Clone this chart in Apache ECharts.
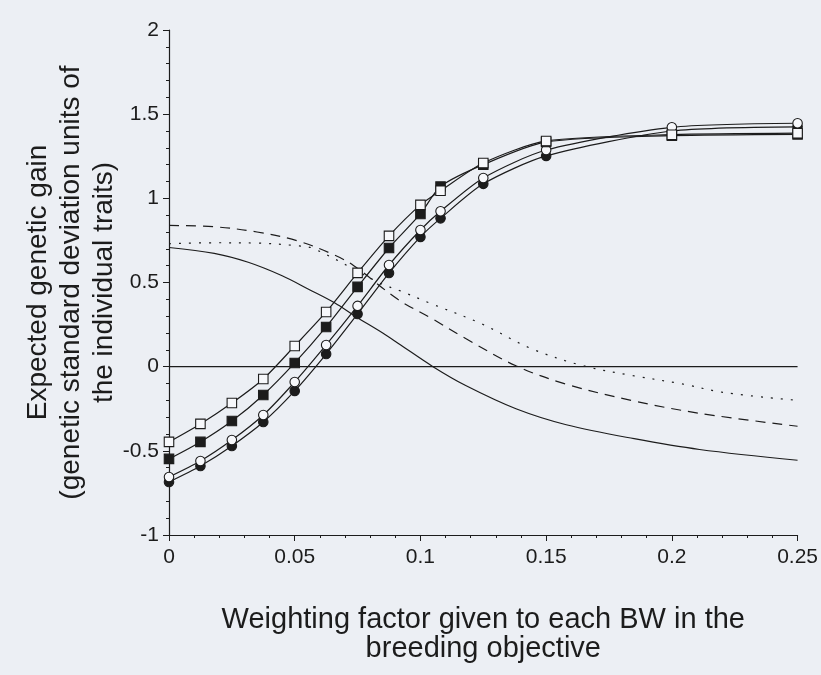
<!DOCTYPE html>
<html>
<head>
<meta charset="utf-8">
<script src="https://cdn.jsdelivr.net/npm/echarts@6/dist/echarts.min.js"></script>
<style>
  html, body { margin: 0; padding: 0; background: #eceff4; }
  #chart { width: 821px; height: 675px; }
</style>
</head>
<body>
<div id="chart"></div>
<script>
// ---- data ----
const markerX = [0, 0.0125, 0.025, 0.0375, 0.05, 0.0625, 0.075, 0.0875, 0.1, 0.108, 0.125, 0.15, 0.2, 0.25];
const openSquareY   = [-0.447, -0.340, -0.216, -0.073, 0.123, 0.325, 0.557, 0.777, 0.961, 1.045, 1.210, 1.341, 1.378, 1.387];
const filledSquareY = [-0.548, -0.447, -0.323, -0.168, 0.022, 0.236, 0.474, 0.705, 0.907, 1.070, 1.200, 1.335, 1.372, 1.380];
const openCircleY   = [-0.655, -0.560, -0.436, -0.287, -0.091, 0.129, 0.361, 0.604, 0.812, 0.923, 1.121, 1.287, 1.422, 1.446];
const filledCircleY = [-0.685, -0.590, -0.471, -0.329, -0.144, 0.075, 0.313, 0.556, 0.771, 0.881, 1.086, 1.252, 1.400, 1.425];

const solidX = [0, 0.018, 0.0315, 0.045, 0.0555, 0.066, 0.074, 0.085, 0.092, 0.105, 0.118, 0.138, 0.158, 0.185, 0.211, 0.25];
const solidY = [0.708, 0.673, 0.620, 0.540, 0.460, 0.378, 0.300, 0.200, 0.130, 0.0, -0.112, -0.250, -0.345, -0.428, -0.492, -0.556];

const dashedX = [0, 0.018, 0.035, 0.051, 0.0655, 0.0735, 0.091, 0.1044, 0.118, 0.138, 0.158, 0.184, 0.211, 0.25];
const dashedY = [0.839, 0.831, 0.800, 0.748, 0.665, 0.600, 0.400, 0.287, 0.167, 0.005, -0.104, -0.201, -0.277, -0.354];

const dottedX = [0, 0.018, 0.035, 0.051, 0.0576, 0.084, 0.092, 0.104, 0.124, 0.144, 0.164, 0.184, 0.204, 0.221, 0.25];
const dottedY = [0.730, 0.736, 0.734, 0.718, 0.701, 0.496, 0.450, 0.376, 0.257, 0.108, 0.008, -0.052, -0.102, -0.154, -0.200];

const zeroX = [0, 0.25];
const zeroY = [0, 0];

const xTitle = 'Weighting factor given to each BW in the\nbreeding objective';
const yTitle = 'Expected genetic gain\n(genetic standard deviation units of\nthe individual traits)';

// ---- chart ----
const ink = '#1c1c1c';
const paper = '#eceff4';
const pairs = (xs, ys) => xs.map((x, i) => [x, ys[i]]);
const font = 'Liberation Sans, Arial, sans-serif';

function curve(name, xs, ys, type) {
  return {
    name, type: 'line', data: pairs(xs, ys), showSymbol: false, symbol: 'none',
    smooth: 0.35, lineStyle: { color: ink, width: 1.2, type: type }, z: 2
  };
}
function markers(name, ys, symbol, filled, size) {
  return {
    name, type: 'line', data: pairs(markerX, ys), symbol: symbol, symbolSize: size,
    smooth: 0.25,
    lineStyle: { color: ink, width: 1.2 },
    itemStyle: { color: filled ? ink : '#f7f8fb', borderColor: ink, borderWidth: 1.1 },
    z: 3
  };
}

const chart = echarts.init(document.getElementById('chart'), null, { renderer: 'canvas' });
chart.setOption({
  animation: false,
  backgroundColor: paper,
  grid: { left: 169, top: 30, width: 632, height: 505, containLabel: false },
  xAxis: {
    type: 'value', min: 0, max: 0.25, interval: 0.05,
    name: xTitle, nameLocation: 'middle', nameGap: 70, nameMoveOverlap: false,
    nameTextStyle: { fontFamily: font, fontSize: 29, color: ink, lineHeight: 29 },
    axisLine: { onZero: false, lineStyle: { color: ink, width: 1.2 } },
    axisTick: { length: 6, lineStyle: { color: ink } },
    minorTick: { show: true, splitNumber: 5, length: 3, lineStyle: { color: ink } },
    axisLabel: { fontFamily: font, fontSize: 21, color: ink, margin: 12 },
    splitLine: { show: false }
  },
  yAxis: {
    type: 'value', min: -1, max: 2, interval: 0.5,
    name: yTitle, nameLocation: 'middle', nameGap: 48, nameRotate: 90, nameMoveOverlap: false,
    nameTextStyle: { fontFamily: font, fontSize: 28, color: ink, lineHeight: 33 },
    axisLine: { show: true, onZero: false, lineStyle: { color: ink, width: 1.2 } },
    axisTick: { show: true, length: 6, lineStyle: { color: ink } },
    minorTick: { show: true, splitNumber: 5, length: 3, lineStyle: { color: ink } },
    axisLabel: { fontFamily: font, fontSize: 21, color: ink, margin: 10 },
    splitLine: { show: false }
  },
  series: [
    curve('zero', zeroX, zeroY, 'solid'),
    curve('solid', solidX, solidY, 'solid'),
    curve('dashed', dashedX, dashedY, [10, 7]),
    curve('dotted', dottedX, dottedY, [2, 8]),
    markers('filled circles', filledCircleY, 'circle', true, 9.5),
    markers('open circles', openCircleY, 'circle', false, 9.5),
    markers('filled squares', filledSquareY, 'rect', true, 9.5),
    markers('open squares', openSquareY, 'rect', false, 9.5)
  ]
});
</script>
</body>
</html>
